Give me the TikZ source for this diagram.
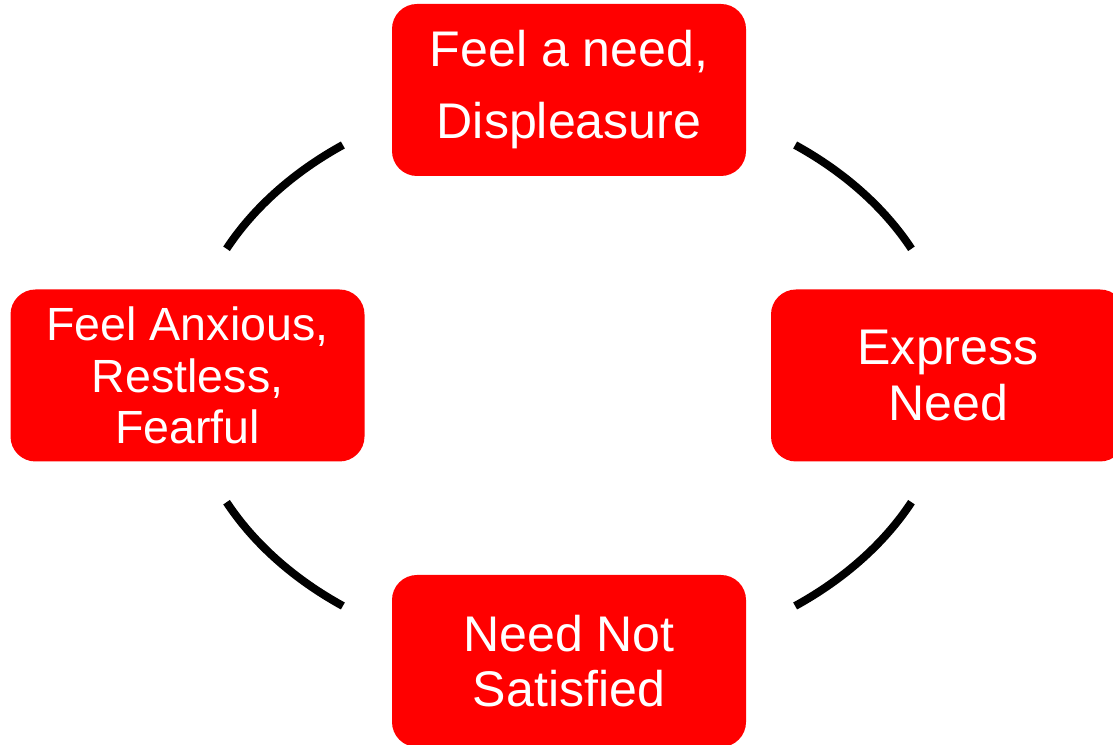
\documentclass[tikz,border=0pt]{standalone}
\usepackage{fontspec}
\setmainfont{Liberation Sans}
\usepackage{tikz}
\usetikzlibrary{positioning,calc}
\tikzset{
  needbox/.style={
    fill=red,
    rounded corners=5mm,
    align=center,
    text=white,
    minimum width=7.08cm,
    minimum height=3.44cm,
    inner sep=0pt,
    font=\fontsize{28.5}{31.5}\selectfont
  },
  needarc/.style={
    line width=0.16cm,
    draw=black
  }
}

\begin{document}
\begin{tikzpicture}
    \useasboundingbox (0,0) rectangle (22.26,14.9);
    \clip (0,0) rectangle (22.26,14.9);
    \coordinate (hub) at (11.38,7.39);

    \node[needbox, font=\fontsize{28.5}{41}\selectfont] (feel) at (11.38,13.10) {Feel a need,\\Displeasure};
    \node[needbox] (express) at (18.96,7.39) {Express\\Need};
    \node[needbox] (unmet) at (11.38,1.68) {Need Not\\Satisfied};
    \node[needbox, font=\fontsize{26.5}{29.5}\selectfont] (anxious) at (3.75,7.39) {Feel Anxious,\\Restless,\\Fearful};

    % four pieces of one ellipse round the hub
    \foreach \a in {26.3,126.3,206.3,306.3}
      \draw[needarc] ([shift={(\a:7.64 and 5.72)}]hub) arc[start angle=\a, delta angle=27.4, x radius=7.64, y radius=5.72];
\end{tikzpicture}
\end{document}
